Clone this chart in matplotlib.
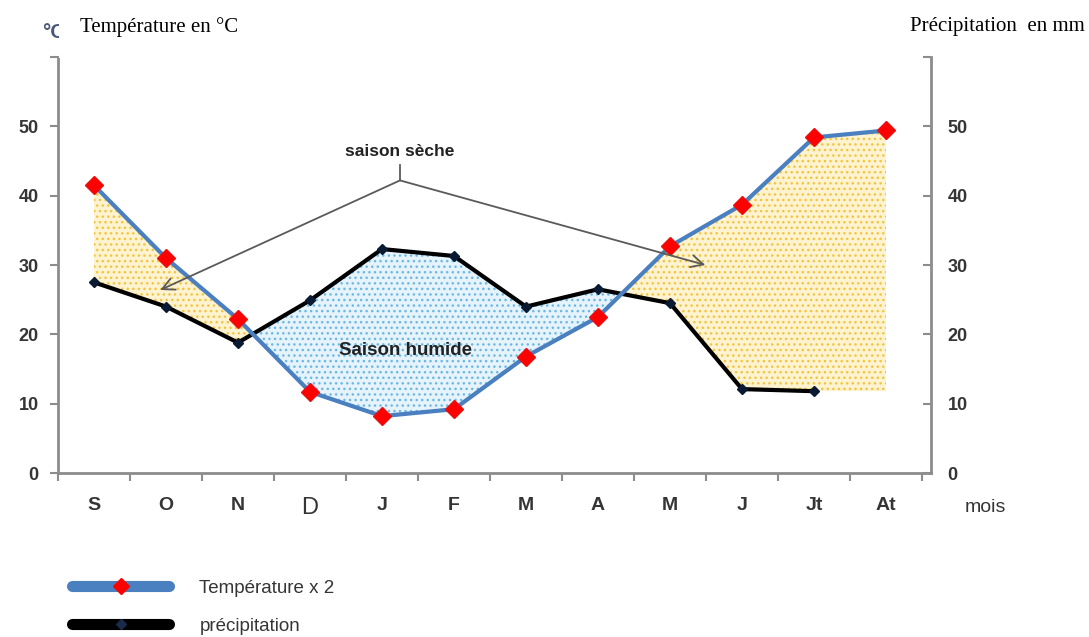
import numpy as np
import pandas as pd
import matplotlib
matplotlib.use("Agg")
import matplotlib.pyplot as plt
from matplotlib.lines import Line2D

mois = ["S", "O", "N", "D", "J", "F", "M", "A", "M", "J", "Jt", "At"]
temperature_x2 = [41.5, 31.0, 22.2, 11.7, 8.2, 9.2, 16.8, 22.5, 32.7, 38.7, 48.4, 49.4]
precipitation = [27.5, 24.0, 18.8, 24.9, 32.3, 31.3, 24.0, 26.5, 24.5, 12.1, 11.8, np.nan]
y_ticks = [0, 10, 20, 30, 40, 50, 60]
y_labels = ["0", "10", "20", "30", "40", "50", ""]

grey = "#8c8c8c"
txt = "#353535"

fig = plt.figure(figsize=(10.89, 6.37), dpi=100)
ax = fig.add_axes([58 / 1089, 1 - 473 / 637, (931 - 58) / 1089, (473 - 57) / 637])

x = np.arange(len(mois)) + 0.5
t = np.array(temperature_x2)
p = pd.Series(precipitation).ffill().values

# shading: dry season (temp > precip) yellow, wet season blue
ax.fill_between(x, t, p, where=t >= p, interpolate=True, facecolor="#fdf3d0",
                edgecolor="#f2c440", hatch="...", linewidth=0, zorder=1)
ax.fill_between(x, t, p, where=p > t, interpolate=True, facecolor="#e6f3fb",
                edgecolor="#6ab9e4", hatch="...", linewidth=0, zorder=1)

ax.plot(x, t, color="#4a7fc0", lw=3, marker="D", ms=9, mfc="#ff0000",
        mec="#e81010", zorder=4)
ax.plot(x, precipitation, color="black", lw=3, marker="D", ms=5,
        mfc="#0b1a33", mec="#0b1a33", zorder=3)

ax.set_xlim(0, 12.125)
ax.set_ylim(0, 60)
ax.set_xticks(np.arange(13))
ax.set_xticklabels([])
ax.set_xticks(x, minor=True)
ax.set_xticklabels(mois, minor=True)
ax.tick_params(axis="x", which="major", length=6, width=1.5, color=grey, direction="out")
ax.tick_params(axis="x", which="minor", length=0, pad=17, labelsize=14, labelcolor=txt)
for lab in ax.get_xticklabels(minor=True):
    lab.set_fontweight("bold")
    lab.set_fontfamily("Liberation Sans")
ax.get_xticklabels(minor=True)[3].set_fontweight("normal")
ax.get_xticklabels(minor=True)[3].set_fontsize(17)

ax.set_yticks(y_ticks)
ax.set_yticklabels(y_labels, fontweight="bold", fontfamily="Liberation Sans")
ax.tick_params(axis="y", length=6, width=1.5, color=grey, direction="out",
               pad=8, labelsize=13, labelcolor=txt)

for s in ["top", "right"]:
    ax.spines[s].set_visible(False)
for s in ["left", "bottom"]:
    ax.spines[s].set_color(grey)
    ax.spines[s].set_linewidth(2)

ax2 = ax.twinx()
ax2.set_ylim(0, 60)
ax2.set_yticks(y_ticks)
ax2.set_yticklabels(y_labels, fontweight="bold", fontfamily="Liberation Sans")
ax2.tick_params(axis="y", length=6, width=1.5, color=grey, direction="in",
                pad=12, labelsize=13, labelcolor=txt)
for s in ["top", "left", "bottom"]:
    ax2.spines[s].set_visible(False)
ax2.spines["right"].set_color(grey)
ax2.spines["right"].set_linewidth(2)

# annotations
ax.text(4.75, 46.3, "saison sèche", ha="center", va="center", fontsize=12.5,
        fontweight="bold", color="#222222", family="Liberation Sans")
ax.plot([4.75, 4.75], [42.2, 44.4], color="#5a5a5a", lw=1.3, zorder=5)
for tx, ty in [(1.42, 26.4), (8.99, 30.0)]:
    ax.annotate("", xy=(tx, ty), xytext=(4.75, 42.2),
                arrowprops=dict(arrowstyle="->", color="#5a5a5a", lw=1.3,
                                mutation_scale=22, shrinkA=0, shrinkB=0), zorder=5)
ax.text(4.82, 17.7, "Saison humide", ha="center", va="center", fontsize=13.5,
        fontweight="bold", color="#222222", family="Liberation Sans", zorder=6)

# titles ("°C" partly hidden behind the title box, as in the scan)
fig.text(42 / 1089, 1 - 32 / 637, "°C", fontsize=15, fontweight="bold",
         color="#4a5a78", va="center", ha="left", family="Liberation Sans", zorder=1)
fig.text(80 / 1089, 1 - 27 / 637, "Température en °C", fontsize=15,
         family="Liberation Serif", va="center", ha="left", zorder=10,
         bbox=dict(facecolor="white", edgecolor="none", pad=15))
fig.text(1085 / 1089, 1 - 27 / 637, "Précipitation  en mm", fontsize=15,
         family="Liberation Serif", va="center", ha="right")
fig.text(965 / 1089, 1 - 507 / 637, "mois", fontsize=14, color=txt,
         va="center", ha="left", family="Liberation Sans")

# legend
h1 = Line2D([], [], color="#4a7fc0", lw=8, solid_capstyle="round", marker="D",
            ms=8, mfc="#ff0000", mec="#ff0000")
h2 = Line2D([], [], color="black", lw=8, solid_capstyle="round", marker="D",
            ms=5, mfc="#1a2a4a", mec="#1a2a4a")
fig.legend([h1, h2], ["Température x 2", "précipitation"], loc="upper left",
           bbox_to_anchor=(55 / 1089, 1 - 563 / 637), frameon=False,
           numpoints=1, handlelength=5.2, handletextpad=1.6, labelspacing=1.1,
           prop={"family": "Liberation Sans", "size": 13.5}, labelcolor=txt)

fig.savefig("out.png", dpi=100)
